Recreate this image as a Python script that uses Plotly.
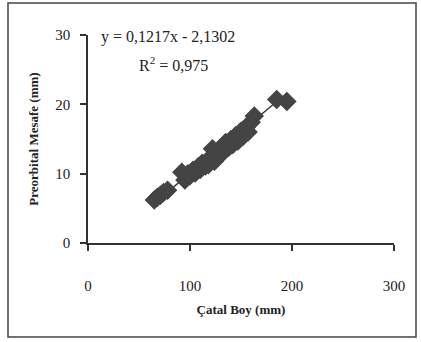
import plotly.graph_objects as go

catal_boy = [65, 68, 71, 74, 78, 92, 95, 98, 100, 103, 105, 108, 110, 112, 115, 117, 118, 120, 122, 124,
             127, 130, 132, 135, 138, 140, 142, 145, 147, 150, 152, 155, 157, 160, 163, 185, 195]
preorbital = [6.2, 6.6, 6.9, 7.3, 7.6, 10.2, 9.1, 10.0, 9.7, 10.5, 10.1, 11.0, 10.6, 11.5, 11.1, 11.9, 11.3, 12.2, 13.6, 11.8,
              12.9, 13.7, 13.0, 14.5, 13.8, 14.9, 14.2, 15.5, 14.7, 16.1, 15.4, 16.7, 16.0, 17.4, 18.3, 20.7, 20.4]

slope, intercept = 0.1217, -2.1302
eq_text = "y = 0,1217x - 2,1302"
r2_text = "R<sup>2</sup> = 0,975"
x_title = "Çatal Boy (mm)"
y_title = "Preorbital Mesafe (mm)"
x_ticks = [0, 100, 200, 300]
y_ticks = [0, 10, 20, 30]

trend_x = [min(catal_boy), max(catal_boy)]
trend_y = [slope * v + intercept for v in trend_x]

FONT = "Liberation Serif"
DARK = "#333333"

fig = go.Figure()
fig.add_trace(go.Scatter(x=trend_x, y=trend_y, mode="lines",
                         line=dict(color="#3a3a3a", width=1.5), showlegend=False))
fig.add_trace(go.Scatter(x=catal_boy, y=preorbital, mode="markers",
                         marker=dict(symbol="diamond", size=15, color="#444444"),
                         showlegend=False))

L, R, T, B = 88, 27, 35, 99
W, H = 421, 342
pw, ph = W - L - R, H - T - B

def px_x(p):
    return (p - L) / pw

def px_y(p):
    return (H - B - p) / ph

fig.update_layout(
    width=W, height=H,
    margin=dict(l=L, r=R, t=T, b=B, autoexpand=False),
    paper_bgcolor="white", plot_bgcolor="white",
    font=dict(family=FONT, color="#222222", size=14),
    xaxis=dict(range=[0, 300], tickvals=x_ticks, ticks="outside", ticklen=6, automargin=False,
               tickcolor=DARK, tickwidth=1.5, showline=True, linecolor=DARK, linewidth=1.5,
               showgrid=False, zeroline=False, ticklabelstandoff=22,
               tickfont=dict(family=FONT, size=15),
               title=dict(text="<b>" + x_title + "</b>", font=dict(family=FONT, size=13), standoff=12)),
    yaxis=dict(range=[0, 30], tickvals=y_ticks, ticks="outside", ticklen=6, automargin=False,
               tickcolor=DARK, tickwidth=1.5, showline=True, linecolor=DARK, linewidth=1.5,
               showgrid=False, zeroline=False, ticklabelstandoff=7,
               tickfont=dict(family=FONT, size=15),
               title=dict(text="<b>" + y_title + "</b>", font=dict(family=FONT, size=13), standoff=14)),
    shapes=[dict(type="rect", xref="paper", yref="paper",
                 x0=px_x(8), x1=px_x(416), y0=px_y(337), y1=px_y(3),
                 line=dict(color="#444444", width=1.5))],
    annotations=[
        dict(text=eq_text, xref="paper", yref="paper", x=px_x(99), y=px_y(37),
             xanchor="left", yanchor="middle", showarrow=False,
             font=dict(family=FONT, size=16, color="#222222")),
        dict(text=r2_text, xref="paper", yref="paper", x=px_x(137), y=px_y(64),
             xanchor="left", yanchor="middle", showarrow=False,
             font=dict(family=FONT, size=16, color="#222222")),
    ],
)

fig.write_html("out.html", config={"displayModeBar": False},
               post_script="document.body.style.margin='0';document.body.style.overflow='hidden';")
